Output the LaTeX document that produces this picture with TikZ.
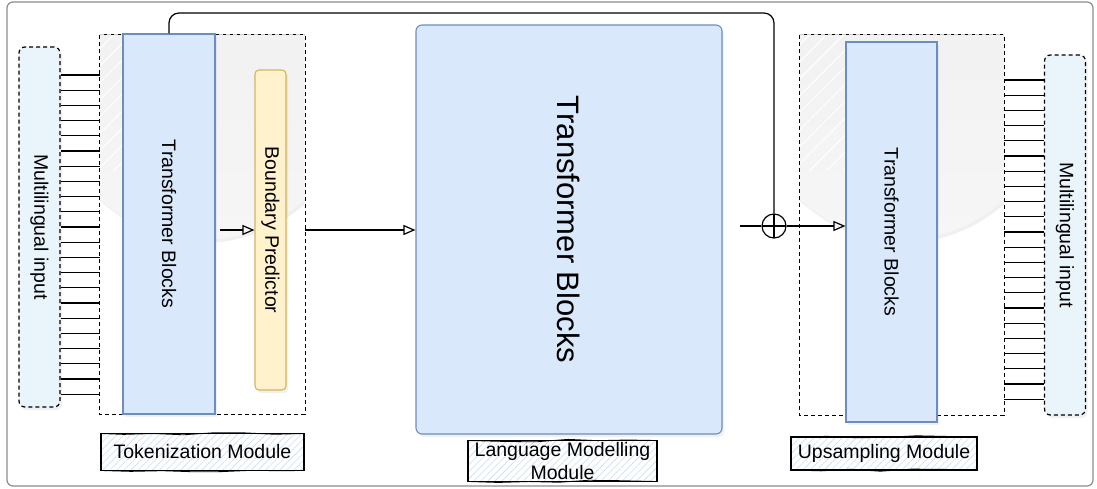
\documentclass[tikz,border=0pt]{standalone}
\usepackage{fontspec}
\setmainfont{Liberation Sans}
\usetikzlibrary{arrows.meta}
\usetikzlibrary{shadows}
\usetikzlibrary{patterns.meta}
\usetikzlibrary{decorations.pathmorphing}

\definecolor{blockfill}{HTML}{DAE8FC}
\definecolor{blockline}{HTML}{6C8EBF}
\definecolor{predfill}{HTML}{FFF2CC}
\definecolor{predline}{HTML}{D6B656}
\definecolor{inputfill}{HTML}{EAF4FB}
\definecolor{framegray}{HTML}{8C8C8C}
\definecolor{glasstop}{HTML}{EDEDED}
\definecolor{glassbot}{HTML}{F6F6F6}
\definecolor{hatchblue}{HTML}{C9DDF5}
\newcommand*{\fs}{\fontsize{19.5}{23}\selectfont}
\newcommand*{\fbig}{\fontsize{31}{36}\selectfont}

\begin{document}
\begin{tikzpicture}[x=1pt,y=-1pt]
\tikzset{every node/.style={font=\fs, inner sep=0pt},
  wire/.style={line width=1.2pt},
  opentip/.style={-{Triangle[open,length=12pt,width=10pt,line width=1.2pt]}},
  shade/.style={drop shadow={shadow xshift=2pt,shadow yshift=-3pt,opacity=0.12}},
  block/.style={draw=blockline, fill=blockfill, line width=1.1pt},
  pred/.style={draw=predline, fill=predfill, line width=1.1pt, rounded corners=4pt},
  inbox/.style={draw, fill=inputfill, line width=1.2pt, dash pattern=on 4pt off 3pt, rounded corners=6pt},
  modbox/.style={line width=1.2pt, dash pattern=on 4pt off 3pt},
  vtext/.style={label={[rotate=-90]center:#1}},
  tag/.style={draw, line width=1.5pt, pattern={Lines[angle=45,distance=5pt,line width=0.6pt]}, pattern color=hatchblue,
    postaction={draw, line width=0.8pt, decorate, decoration={random steps,segment length=30pt,amplitude=1.3pt}}}}

    \useasboundingbox (0,0) rectangle (1097,488);
    \draw[framegray, line width=1.2pt, rounded corners=6pt] (7,2) rectangle (1093,486);

    % module areas
    \path node[minimum width=205pt, minimum height=379pt] (tokBox) at (202.5,224.5) {};
    \path node[minimum width=204pt, minimum height=380pt] (upBox) at (902,225) {};
    \foreach \m/\w in {tokBox/123,upBox/846} {
      \begin{scope}
        \clip (\m.north west) rectangle (\m.south east);
        \shade[top color=glasstop, bottom color=glassbot] (\m.north) ellipse [x radius=172pt, y radius=205pt];
        \clip (\m.north) ellipse [x radius=172pt, y radius=205pt];
        \fill[pattern={Lines[angle=45,distance=12pt,line width=1pt]}, pattern color=white] (\m.north west) rectangle (\w,170);
      \end{scope}
      \draw[modbox] (\m.north west) rectangle (\m.south east);
      \draw[modbox, gray!40] (\m.north west) -- (\m.north east);
    }

    % blocks
    \node[inbox, shade, minimum width=41pt, minimum height=360pt, vtext={Multilingual input}] (inL) at (39.5,227) {};
    \node[block, shade, minimum width=92pt, minimum height=380pt, vtext={Transformer Blocks}] (tokT) at (169,224) {};
    \node[pred, shade, minimum width=31pt, minimum height=320pt, vtext={Boundary Predictor}] (bnd) at (270.5,230) {};
    \node[block, shade, rounded corners=6pt, minimum width=306pt, minimum height=409pt,
      label={[rotate=-90,font=\fbig]center:Transformer Blocks}] (lm) at (569,229.5) {};
    \node[block, shade, minimum width=91pt, minimum height=380pt, vtext={Transformer Blocks}] (upT) at (891.5,232) {};
    \node[inbox, shade, minimum width=41pt, minimum height=360pt, vtext={Multilingual input}] (inR) at (1065,235) {};

    % token wires
    \foreach \i in {0,...,21} {
      \pgfmathsetmacro{\yl}{75+15.2*\i}
      \pgfmathsetmacro{\yr}{80+15.2*\i}
      \draw[wire] (inL.east |- 0,\yl) -- (tokBox.west |- 0,\yl);
      \draw[wire] (upBox.east |- 0,\yr) -- (inR.west |- 0,\yr);
    }

    % arrows
    \draw[wire, opentip] ([xshift=4pt]tokT.east |- bnd) -- (bnd.west);
    \draw[wire, opentip] (tokBox.east |- bnd) -- (lm.west |- bnd);

    \node[circle, draw, line width=1.2pt, minimum size=24pt,
      path picture={\draw[line width=1.2pt] (path picture bounding box.north) -- (path picture bounding box.south)
        (path picture bounding box.west) -- (path picture bounding box.east);}] (add) at (774,226) {};
    \coordinate (skipTop) at (0,13);
    \coordinate (lmOut) at (740,226);
    \draw[wire, rounded corners=10pt] (tokT.north) |- (add |- skipTop) -- (add.north);
    \draw[wire] (lmOut) -- (add.west);
    \draw[wire, opentip] (add.east) -- (upT.west |- add);

    % module names
    \node[tag, minimum width=203pt, minimum height=37pt] (tokLab) at (202.5,452) {Tokenization Module};
    \node[tag, minimum width=189pt, minimum height=41pt, align=center] (lmLab) at (562.5,461) {Language Modelling\\Module};
    \node[tag, minimum width=186pt, minimum height=33pt] (upLab) at (884,453.5) {Upsampling Module};
\end{tikzpicture}
\end{document}
